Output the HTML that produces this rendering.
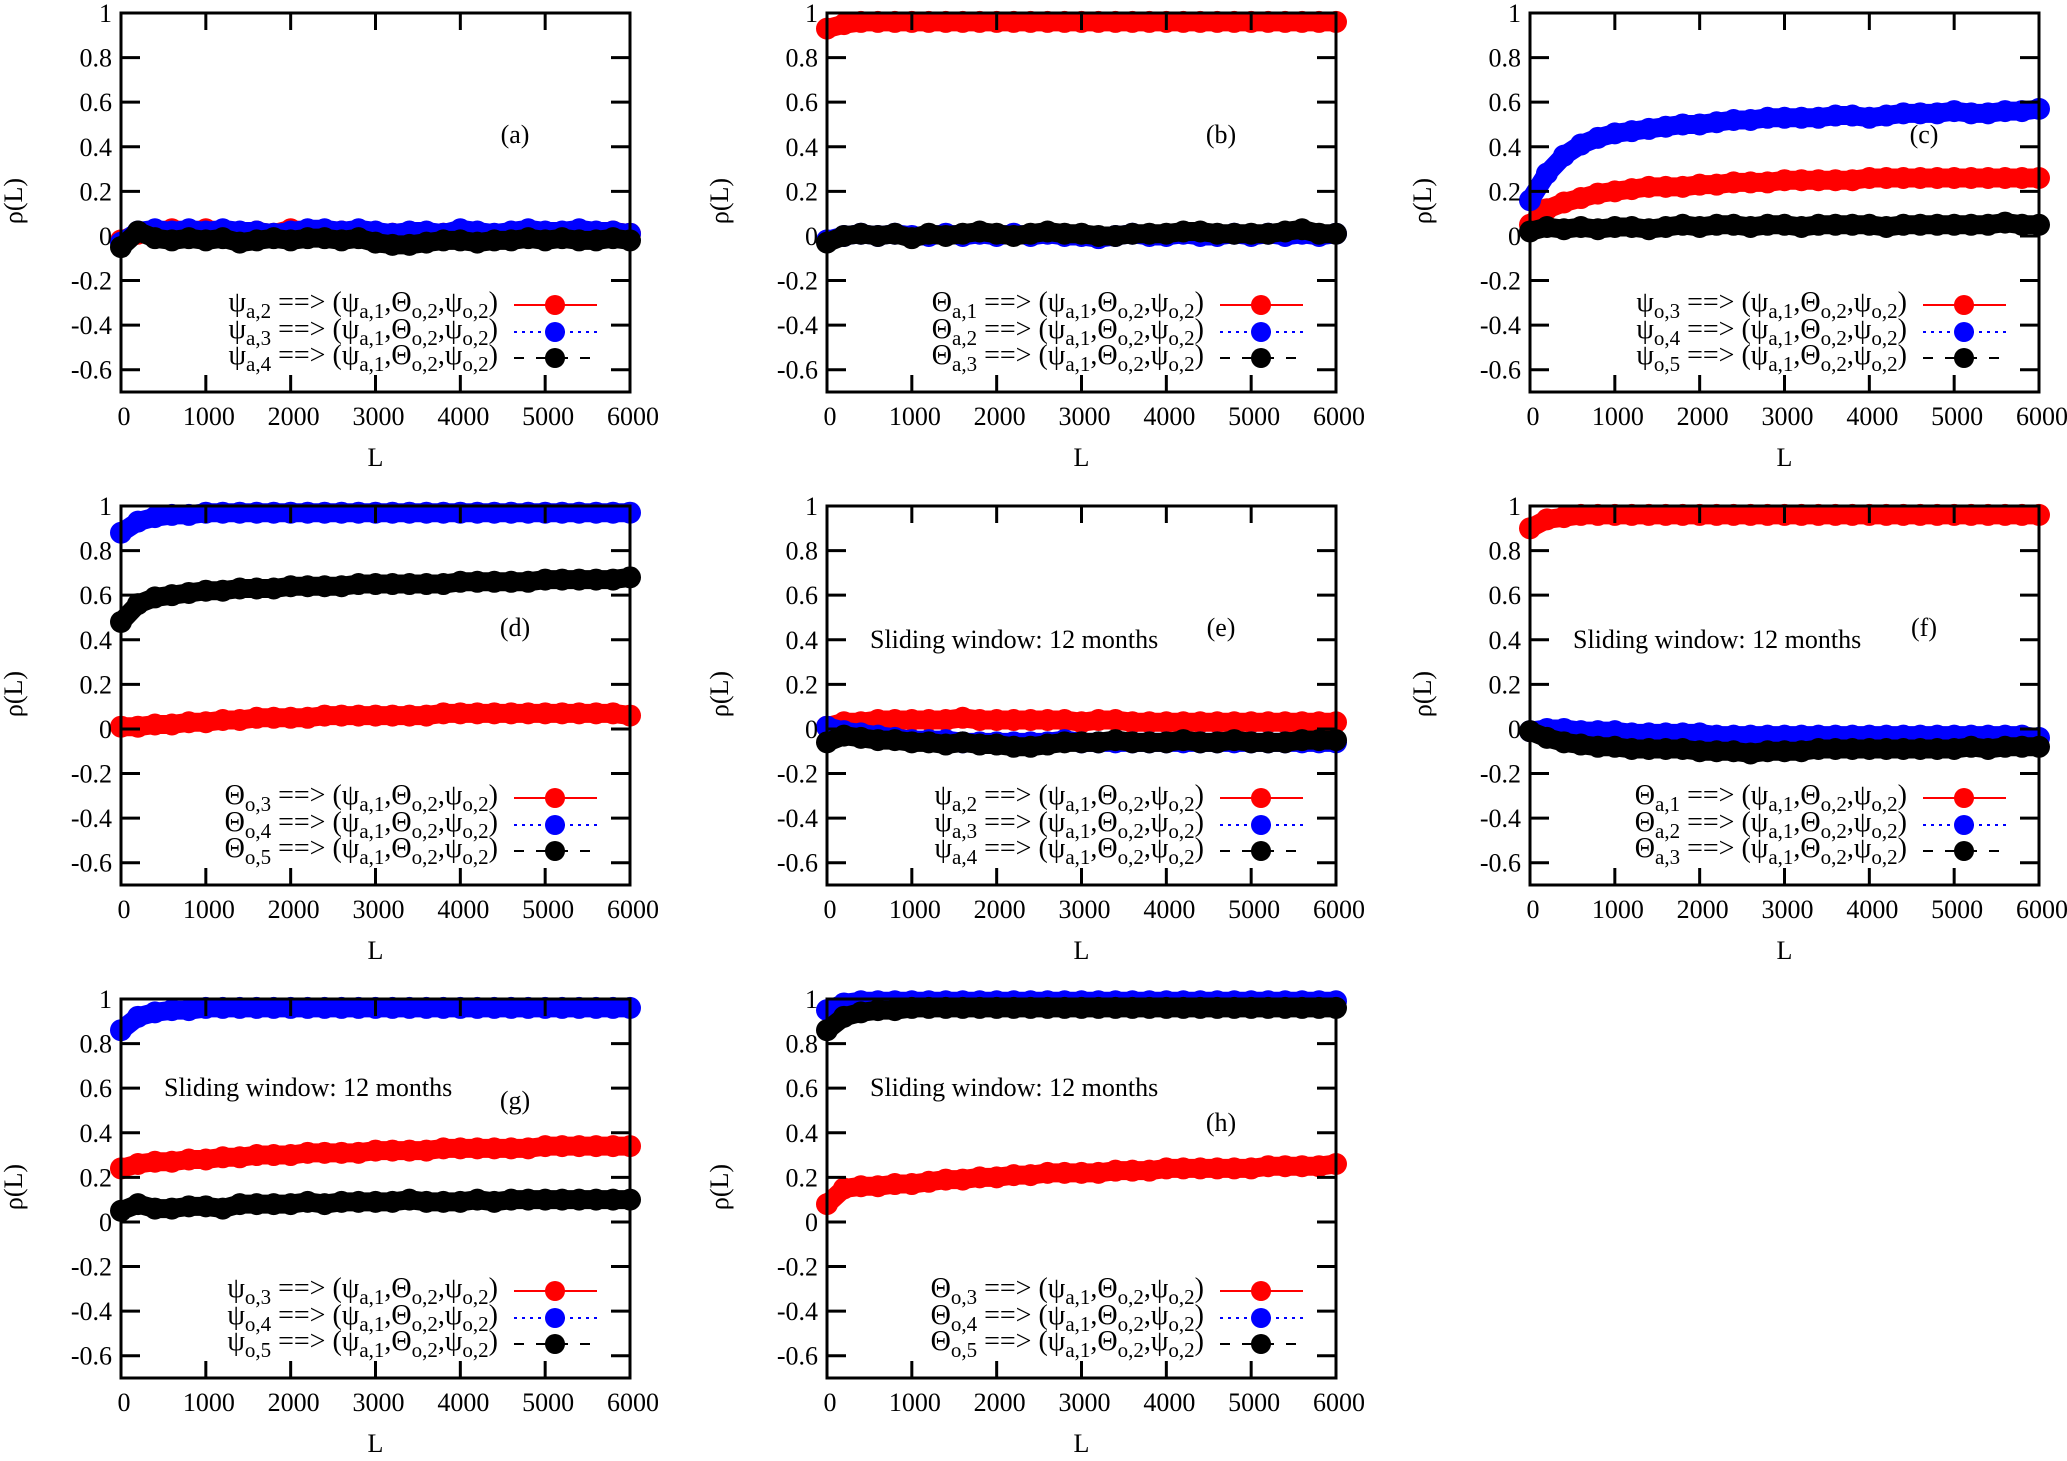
<!DOCTYPE html>
<html><head><meta charset="utf-8"><style>
html,body{margin:0;padding:0;background:#fff;}
svg{display:block;}
text{font-family:"Liberation Serif",serif;fill:#000;}
</style></head><body>
<svg id="fig" width="2067" height="1461" viewBox="0 0 2067 1461" xmlns="http://www.w3.org/2000/svg"></svg>
<script>
const Lcats = [0,200,400,600,800,1000,1200,1400,1600,1800,2000,2200,2400,2600,2800,3000,3200,3400,3600,3800,4000,4200,4400,4600,4800,5000,5200,5400,5600,5800,6000];
const yTicks = [1,0.8,0.6,0.4,0.2,0,-0.2,-0.4,-0.6];
const yTickLabels = ["1","0.8","0.6","0.4","0.2","0","-0.2","-0.4","-0.6"];
const xTicks = [0,1000,2000,3000,4000,5000,6000];
const xTickLabels = ["0","1000","2000","3000","4000","5000","6000"];

const aRed   = [-0.02,0.01,0.02,0.03,0.02,0.03,0.02,0.01,0.02,0.01,0.03,0.02,0.01,0.02,0.02,0.00,0.01,0.00,0.01,0.01,0.02,0.00,-0.01,0.01,0.02,0.01,0.01,0.02,0.01,0.02,0.01];
const aBlue  = [-0.03,0.02,0.03,0.02,0.03,0.02,0.03,0.02,0.02,0.01,0.02,0.03,0.03,0.02,0.03,0.02,0.01,0.02,0.02,0.01,0.03,0.02,0.01,0.02,0.03,0.02,0.02,0.03,0.02,0.02,0.01];
const aBlack = [-0.05,0.02,-0.01,-0.02,-0.01,-0.02,-0.01,-0.03,-0.02,-0.01,-0.02,-0.01,-0.01,-0.02,-0.01,-0.03,-0.04,-0.04,-0.03,-0.02,-0.02,-0.03,-0.02,-0.02,-0.01,-0.02,-0.01,-0.02,-0.02,-0.01,-0.02];

const bRed   = [0.93,0.95,0.96,0.96,0.96,0.96,0.96,0.96,0.96,0.96,0.96,0.96,0.96,0.96,0.96,0.96,0.96,0.96,0.96,0.96,0.96,0.96,0.96,0.96,0.96,0.96,0.96,0.96,0.96,0.96,0.96];
const bBlue  = [-0.02,0.00,0.01,0.00,0.01,0.00,0.00,0.01,0.00,0.01,0.00,0.01,0.00,0.01,0.00,0.00,-0.01,0.00,0.01,0.00,0.00,0.01,0.00,0.00,0.01,0.00,0.01,0.00,0.01,0.00,0.01];
const bBlack = [-0.03,0.00,0.01,0.00,0.01,-0.01,0.01,0.00,0.01,0.02,0.01,0.00,0.01,0.02,0.01,0.01,0.00,0.00,0.01,0.01,0.01,0.02,0.02,0.01,0.01,0.01,0.01,0.02,0.03,0.01,0.01];

const cRed   = [0.05,0.12,0.15,0.17,0.19,0.20,0.21,0.22,0.22,0.22,0.23,0.23,0.24,0.24,0.24,0.25,0.25,0.25,0.25,0.25,0.26,0.26,0.26,0.26,0.26,0.26,0.26,0.26,0.26,0.26,0.26];
const cBlue  = [0.16,0.28,0.36,0.41,0.44,0.46,0.47,0.48,0.49,0.50,0.50,0.51,0.52,0.52,0.53,0.53,0.53,0.53,0.54,0.54,0.53,0.54,0.55,0.55,0.55,0.56,0.55,0.55,0.56,0.56,0.57];
const cBlack = [0.02,0.04,0.03,0.04,0.03,0.04,0.04,0.03,0.04,0.05,0.04,0.05,0.05,0.04,0.05,0.05,0.04,0.05,0.05,0.05,0.05,0.04,0.05,0.05,0.05,0.05,0.05,0.05,0.06,0.05,0.05];

const dRed   = [0.01,0.01,0.02,0.02,0.03,0.03,0.04,0.04,0.05,0.05,0.05,0.05,0.06,0.06,0.06,0.06,0.06,0.06,0.06,0.07,0.07,0.07,0.07,0.07,0.07,0.07,0.07,0.07,0.07,0.07,0.06];
const dBlue  = [0.88,0.93,0.95,0.96,0.96,0.97,0.97,0.97,0.97,0.97,0.97,0.97,0.97,0.97,0.97,0.97,0.97,0.97,0.97,0.97,0.97,0.97,0.97,0.97,0.97,0.97,0.97,0.97,0.97,0.97,0.97];
const dBlack = [0.48,0.56,0.59,0.60,0.61,0.62,0.62,0.63,0.63,0.63,0.64,0.64,0.64,0.64,0.65,0.65,0.65,0.65,0.65,0.65,0.66,0.66,0.66,0.66,0.66,0.67,0.67,0.67,0.67,0.67,0.68];

const eRed   = [0.01,0.03,0.03,0.04,0.04,0.04,0.04,0.04,0.05,0.04,0.04,0.04,0.04,0.04,0.04,0.03,0.04,0.04,0.03,0.03,0.03,0.03,0.03,0.03,0.03,0.03,0.03,0.03,0.03,0.03,0.03];
const eBlue  = [0.01,-0.01,-0.02,-0.03,-0.04,-0.05,-0.05,-0.05,-0.06,-0.06,-0.06,-0.06,-0.06,-0.06,-0.05,-0.06,-0.06,-0.06,-0.06,-0.06,-0.06,-0.06,-0.06,-0.06,-0.06,-0.06,-0.06,-0.06,-0.06,-0.06,-0.06];
const eBlack = [-0.06,-0.03,-0.04,-0.05,-0.05,-0.06,-0.06,-0.07,-0.06,-0.07,-0.07,-0.08,-0.08,-0.07,-0.06,-0.06,-0.06,-0.05,-0.06,-0.06,-0.06,-0.05,-0.06,-0.06,-0.05,-0.06,-0.06,-0.06,-0.05,-0.05,-0.05];

const fRed   = [0.90,0.94,0.95,0.96,0.96,0.96,0.96,0.96,0.96,0.96,0.96,0.96,0.96,0.96,0.96,0.96,0.96,0.96,0.96,0.96,0.96,0.96,0.96,0.96,0.96,0.96,0.96,0.96,0.96,0.96,0.96];
const fBlue  = [-0.01,0.00,0.00,-0.01,-0.01,-0.01,-0.02,-0.02,-0.02,-0.02,-0.02,-0.03,-0.03,-0.03,-0.03,-0.03,-0.03,-0.03,-0.03,-0.03,-0.03,-0.03,-0.03,-0.03,-0.03,-0.03,-0.03,-0.03,-0.03,-0.03,-0.04];
const fBlack = [-0.01,-0.04,-0.06,-0.07,-0.08,-0.08,-0.09,-0.09,-0.09,-0.09,-0.10,-0.10,-0.10,-0.11,-0.10,-0.10,-0.10,-0.09,-0.09,-0.09,-0.09,-0.09,-0.09,-0.09,-0.09,-0.09,-0.08,-0.09,-0.08,-0.08,-0.08];

const gRed   = [0.24,0.26,0.27,0.27,0.28,0.28,0.29,0.29,0.30,0.30,0.30,0.31,0.31,0.31,0.31,0.32,0.32,0.32,0.32,0.33,0.33,0.33,0.33,0.33,0.33,0.34,0.34,0.34,0.34,0.34,0.34];
const gBlue  = [0.86,0.92,0.94,0.95,0.95,0.96,0.96,0.96,0.96,0.96,0.96,0.96,0.96,0.96,0.96,0.96,0.96,0.96,0.96,0.96,0.96,0.96,0.96,0.96,0.96,0.96,0.96,0.96,0.96,0.96,0.96];
const gBlack = [0.05,0.08,0.06,0.06,0.07,0.07,0.06,0.08,0.08,0.08,0.08,0.09,0.08,0.09,0.09,0.09,0.09,0.10,0.09,0.09,0.09,0.10,0.09,0.10,0.10,0.10,0.10,0.10,0.10,0.10,0.10];

const hRed   = [0.08,0.15,0.16,0.16,0.17,0.17,0.18,0.19,0.19,0.20,0.20,0.21,0.21,0.22,0.22,0.22,0.22,0.23,0.23,0.23,0.24,0.24,0.24,0.24,0.24,0.24,0.25,0.25,0.25,0.25,0.26];
const hBlue  = [0.95,0.98,0.99,0.99,0.99,0.99,0.99,0.99,0.99,0.99,0.99,0.99,0.99,0.99,0.99,0.99,0.99,0.99,0.99,0.99,0.99,0.99,0.99,0.99,0.99,0.99,0.99,0.99,0.99,0.99,0.99];
const hBlack = [0.86,0.92,0.94,0.95,0.95,0.96,0.96,0.96,0.96,0.96,0.96,0.96,0.96,0.96,0.96,0.96,0.96,0.96,0.96,0.96,0.96,0.96,0.96,0.96,0.96,0.96,0.96,0.96,0.96,0.96,0.96];

const NS = "http://www.w3.org/2000/svg";
const svg = document.getElementById('fig');
function mk(tag, parent){ const e = document.createElementNS(NS, tag); parent.appendChild(e); return e; }

const colL = [121, 827, 1530], rowT = [13, 506, 999];
const PW = 509, PH = 379;
const panels = [
 {id:'a', c:0, r:0, data:[aRed,aBlue,aBlack], sym:'ψ', idx:'a', n:[2,3,4], sw:0},
 {id:'b', c:1, r:0, data:[bRed,bBlue,bBlack], sym:'Θ', idx:'a', n:[1,2,3], sw:0},
 {id:'c', c:2, r:0, data:[cRed,cBlue,cBlack], sym:'ψ', idx:'o', n:[3,4,5], sw:0},
 {id:'d', c:0, r:1, data:[dRed,dBlue,dBlack], sym:'Θ', idx:'o', n:[3,4,5], sw:0},
 {id:'e', c:1, r:1, data:[eRed,eBlue,eBlack], sym:'ψ', idx:'a', n:[2,3,4], sw:142},
 {id:'f', c:2, r:1, data:[fRed,fBlue,fBlack], sym:'Θ', idx:'a', n:[1,2,3], sw:142},
 {id:'g', c:0, r:2, data:[gRed,gBlue,gBlack], sym:'ψ', idx:'o', n:[3,4,5], sw:97},
 {id:'h', c:1, r:2, data:[hRed,hBlue,hBlack], sym:'Θ', idx:'o', n:[3,4,5], sw:97},
];
const labelY = {a:121,b:121,c:121,d:121,e:121,f:121,g:101,h:123};
const colors = ['#ff0000','#0000ff','#000000'];
const dashes = [null,'3,5','10,12'];
const sNames = ['red','blue','black'];

panels.forEach(p => {
  const x0 = colL[p.c], y0 = rowT[p.r];
  const X = v => x0 + v / 6000 * PW;
  const Y = v => y0 + (1 - v) / 1.7 * PH;
  const g = mk('g', svg);
  
  

  p.data.forEach((arr, si) => {
    const sg = mk('g', g);
    
    
    const band = mk('polyline', sg);
    
    
    band.setAttribute('points', arr.map((v, i) => X(Lcats[i]) + ',' + Y(v)).join(' '));
    band.setAttribute('fill', 'none'); band.setAttribute('stroke', colors[si]);
    band.setAttribute('stroke-width', 19); band.setAttribute('stroke-linejoin', 'round'); band.setAttribute('stroke-linecap', 'round');
    arr.forEach((v, i) => {
      const c = mk('circle', sg);
      
      
      c.setAttribute('cx', X(Lcats[i])); c.setAttribute('cy', Y(v));
      c.setAttribute('r', 11); c.setAttribute('fill', colors[si]);
    });
  });

  const fr = mk('rect', g);
  
  
  fr.setAttribute('x', x0); fr.setAttribute('y', y0); fr.setAttribute('width', PW); fr.setAttribute('height', PH);
  fr.setAttribute('fill', 'none'); fr.setAttribute('stroke', '#000'); fr.setAttribute('stroke-width', 3);

  yTicks.forEach((t, i) => {
    const y = Y(t);
    [[x0, x0 + 19], [x0 + PW - 19, x0 + PW]].forEach(s => {
      const l = mk('line', g);
      
      
      l.setAttribute('x1', s[0]); l.setAttribute('x2', s[1]); l.setAttribute('y1', y); l.setAttribute('y2', y);
      l.setAttribute('stroke', '#000'); l.setAttribute('stroke-width', 3);
    });
    const tx = mk('text', g);
    
    
    tx.setAttribute('x', x0 - 9); tx.setAttribute('y', y + 9);
    tx.setAttribute('text-anchor', 'end'); tx.setAttribute('font-size', 26);
    tx.textContent = yTickLabels[i];
  });
  xTicks.forEach((t, i) => {
    const x = X(t);
    [[y0 + PH - 17, y0 + PH], [y0, y0 + 17]].forEach(s => {
      const l = mk('line', g);
      
      
      l.setAttribute('x1', x); l.setAttribute('x2', x); l.setAttribute('y1', s[0]); l.setAttribute('y2', s[1]);
      l.setAttribute('stroke', '#000'); l.setAttribute('stroke-width', 3);
    });
    const tx = mk('text', g);
    
    
    tx.setAttribute('x', x + 3); tx.setAttribute('y', y0 + PH + 33);
    tx.setAttribute('text-anchor', 'middle'); tx.setAttribute('font-size', 26);
    tx.textContent = xTickLabels[i];
  });
  const xt = mk('text', g);
  
  
  xt.setAttribute('x', x0 + PW / 2); xt.setAttribute('y', y0 + PH + 74);
  xt.setAttribute('text-anchor', 'middle'); xt.setAttribute('font-size', 26);
  xt.textContent = 'L';
  const yt = mk('text', g);
  
  
  yt.setAttribute('transform', 'translate(' + (x0 - 99) + ',' + (y0 + 188) + ') rotate(-90)');
  yt.setAttribute('text-anchor', 'middle'); yt.setAttribute('font-size', 26);
  yt.textContent = 'ρ(L)';

  const pl = mk('text', g);
  
  
  pl.setAttribute('x', x0 + 394); pl.setAttribute('y', y0 + labelY[p.id] + 9);
  pl.setAttribute('text-anchor', 'middle'); pl.setAttribute('font-size', 26);
  pl.textContent = '(' + p.id + ')';

  if (p.sw) {
    const sw = mk('text', g);
    
    
    sw.setAttribute('x', x0 + 43); sw.setAttribute('y', y0 + p.sw);
    sw.setAttribute('font-size', 26);
    sw.textContent = 'Sliding window: 12 months';
  }

  const lg = mk('g', g);
  
  
  const rowsY = [292, 319, 345];
  p.n.forEach((n, i) => {
    const yy = y0 + rowsY[i];
    const t = mk('text', lg);
    
    
    t.setAttribute('x', x0 + 377); t.setAttribute('y', yy + 6);
    t.setAttribute('text-anchor', 'end'); t.setAttribute('font-size', 28);
    t.innerHTML = p.sym + '<tspan font-size="21" dy="7">' + p.idx + ',' + n + '</tspan><tspan dy="-7"> ==&gt; (ψ</tspan><tspan font-size="21" dy="7">a,1</tspan><tspan dy="-7">,Θ</tspan><tspan font-size="21" dy="7">o,2</tspan><tspan dy="-7">,ψ</tspan><tspan font-size="21" dy="7">o,2</tspan><tspan dy="-7">)</tspan>';
    const l = mk('line', lg);
    
    
    l.setAttribute('x1', x0 + 393); l.setAttribute('x2', x0 + 476);
    l.setAttribute('y1', yy); l.setAttribute('y2', yy);
    l.setAttribute('stroke', colors[i]); l.setAttribute('stroke-width', 2);
    if (dashes[i]) l.setAttribute('stroke-dasharray', dashes[i]);
    const c = mk('circle', lg);
    
    
    c.setAttribute('cx', x0 + 434); c.setAttribute('cy', yy); c.setAttribute('r', 10);
    c.setAttribute('fill', colors[i]);
  });
});
</script>
</body></html>
